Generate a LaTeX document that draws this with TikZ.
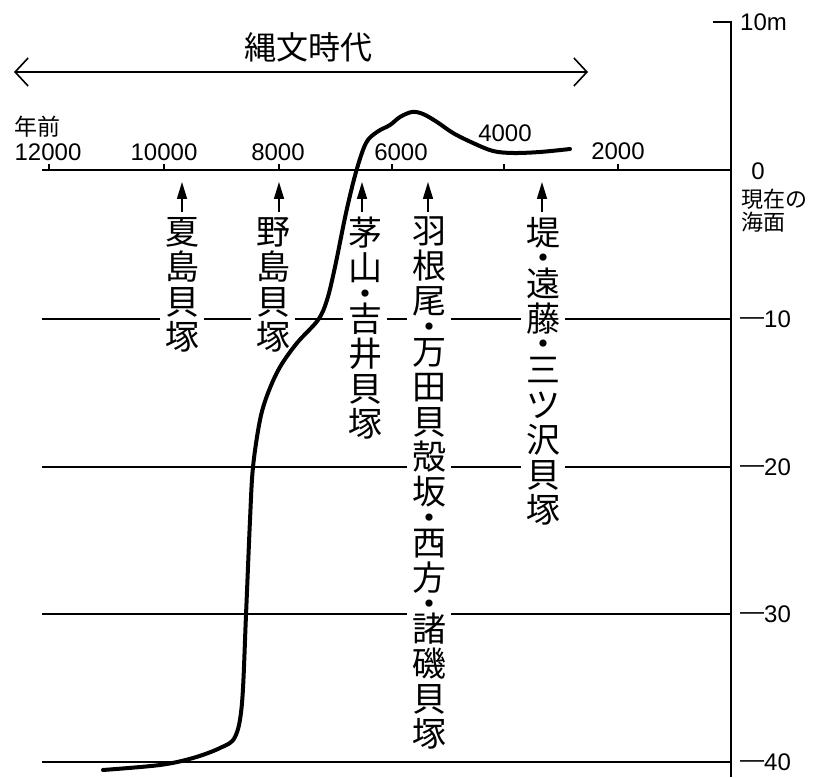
\documentclass[tikz,border=0pt]{standalone}
\usepackage{fontspec}
\setmainfont{Noto Sans CJK JP}
\newfontfamily\numfont{Liberation Sans}
\usepackage{tikz}
\usetikzlibrary{arrows.meta}
\tikzstyle{site} = [anchor=north, align=center, fill=white, inner xsep=5pt, inner ysep=1pt, font=\fontsize{34}{35}\selectfont]
\tikzstyle{sitearrow} = [line width=1.5pt, -{Triangle[length=17pt,width=10pt]}]
\tikzstyle{gridline} = [line width=1.3pt]
\tikzstyle{yearlabel} = [inner sep=0pt, font=\numfont\fontsize{24}{24}\selectfont]
\tikzstyle{depthlabel} = [anchor=west, inner sep=0pt, font=\numfont\fontsize{24}{24}\selectfont]
\tikzstyle{era} = [line width=2pt, {Straight Barb[length=13pt,width=28pt,line width=1.6pt]}-{Straight Barb[length=13pt,width=28pt,line width=1.6pt]}]
\tikzstyle{sealevel} = [line width=4pt, line cap=round, line join=round]

\begin{document}
\begin{tikzpicture}[x=1pt, y=-1pt]
        \path [fill=white] (0,0) rectangle (814,777);

        % Jomon period
        \coordinate (eraleft) at (14,72);
        \coordinate (eraright) at (588,72);
        \draw [era] (eraleft) -- (eraright);
        \node (jomon) [font=\fontsize{32}{32}\selectfont] at (308,47) {縄文時代};

        % depth axis and levels
        \draw [gridline] (713,22) -- (731,22) -- (731,777);
        \node (d10m) [depthlabel] at (740,22) {10m};
        \draw [gridline] (42,170) -- (731,170);
        \draw [gridline] (42,319) -- (731,319);
        \draw [gridline] (42,467) -- (731,467);
        \draw [gridline] (42,614) -- (731,614);
        \draw [gridline] (42,762) -- (731,762);
        \draw [gridline] (49,170) -- (49,164) (164,170) -- (164,164) (279,170) -- (279,164)
                (392,170) -- (392,164) (504,170) -- (504,164) (618,170) -- (618,164);

        \node (d0) [yearlabel] at (758,171) {0};
        \node (sea) [anchor=north west, align=left, inner sep=0pt, font=\fontsize{22}{23}\selectfont] at (741,189) {現在の\\海面};
        \node (d10) [depthlabel] at (740,319) {\raisebox{0.12em}{—}10};
        \node (d20) [depthlabel] at (740,467) {\raisebox{0.12em}{—}20};
        \node (d30) [depthlabel] at (740,614) {\raisebox{0.12em}{—}30};
        \node (d40) [depthlabel] at (740,762) {\raisebox{0.12em}{—}40};

        % years before present
        \node (ago) [font=\fontsize{23}{23}\selectfont] at (37,127) {年前};
        \node (y12000) [yearlabel] at (48,152) {12000};
        \node (y10000) [yearlabel] at (164,152) {10000};
        \node (y8000) [yearlabel] at (278,152) {8000};
        \node (y6000) [yearlabel] at (401,152) {6000};
        \node (y4000) [yearlabel] at (505,133) {4000};
        \node (y2000) [yearlabel] at (618,151) {2000};

        % shell mounds
        \node (natsushima) [site] at (182,216) {夏\\島\\貝\\塚};
        \node (nojima) [site] at (273,216) {野\\島\\貝\\塚};
        \node (kayama) [site] at (365,216) {茅\\山\\[-9.5pt]・\\[-9.5pt]吉\\井\\貝\\塚};
        \node (haneo) [site] at (429,216) {羽\\根\\尾\\[-9.5pt]・\\[-9.5pt]万\\田\\貝\\殻\\坂\\[-9.5pt]・\\[-9.5pt]西\\方\\[-9.5pt]・\\[-9.5pt]諸\\磯\\貝\\塚};
        \node (tsutsumi) [site] at (543,216) {堤\\[-9.5pt]・\\[-9.5pt]遠\\藤\\[-9.5pt]・\\[-9.5pt]三\\ツ\\沢\\貝\\塚};

        \coordinate (natsushimatip) at (182,182);
        \coordinate (nojimatip) at (279,182);
        \coordinate (kayamatip) at (362,182);
        \coordinate (haneotip) at (428,182);
        \coordinate (tsutsumitip) at (542,182);
        \draw [sitearrow] (natsushima.north -| natsushimatip) ++(0,-4) -- (natsushimatip);
        \draw [sitearrow] (nojima.north -| nojimatip) ++(0,-4) -- (nojimatip);
        \draw [sitearrow] (kayama.north -| kayamatip) ++(0,-4) -- (kayamatip);
        \draw [sitearrow] (haneo.north -| haneotip) ++(0,-4) -- (haneotip);
        \draw [sitearrow] (tsutsumi.north -| tsutsumitip) ++(0,-4) -- (tsutsumitip);

        % sea level curve
        \draw [sealevel] plot [smooth, tension=0.55] coordinates {(103,770) (160,765) (193,758) (220,748) (235,737)
                (242,703) (246,615) (250,520) (253,467) (260,420) (268,393) (280,367) (297,343) (318,320)
                (327,300) (335,267) (346,213) (356,172) (366,143) (377,132) (390,125) (400,117) (412,112)
                (423,114) (437,122) (453,133) (473,143) (493,151) (513,153) (540,152) (570,149)};

\end{tikzpicture}
\end{document}
